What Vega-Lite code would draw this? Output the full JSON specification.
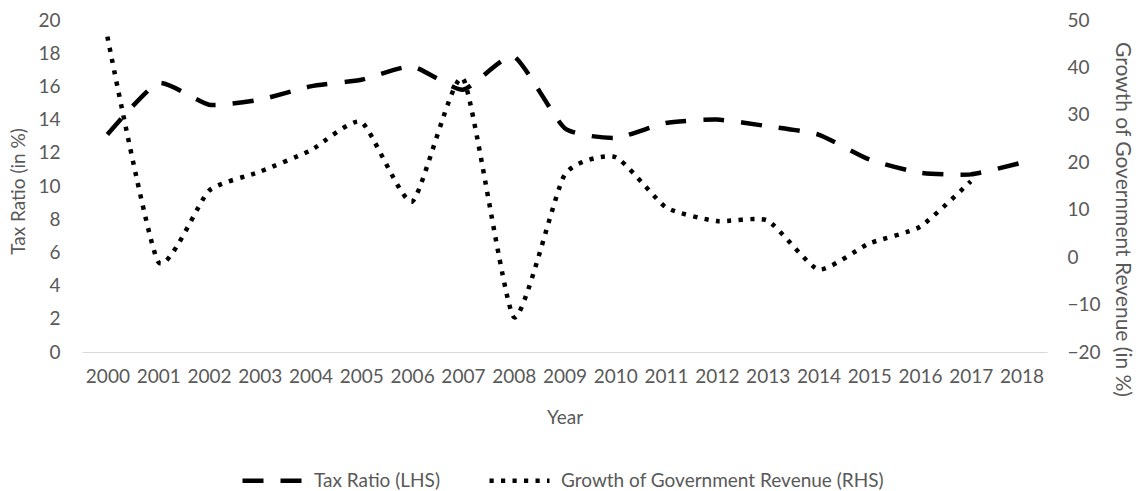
{
  "$schema": "https://vega.github.io/schema/vega-lite/v6.json",
  "autosize": "none",
  "width": 965,
  "height": 332,
  "padding": {"left": 82, "top": 20, "right": 91, "bottom": 139},
  "background": "white",
  "config": {
    "view": {"stroke": null},
    "font": "Lato",
    "axis": {
      "labelFont": "Lato",
      "titleFont": "Lato",
      "labelFontSize": 19,
      "titleFontSize": 19,
      "labelColor": "#595959",
      "titleColor": "#595959",
      "titleFontWeight": "normal",
      "grid": false,
      "ticks": false,
      "tickSize": 0
    },
    "legend": {"labelFont": "Lato"}
  },
  "data": {
    "values": [
      {"Year": "2000", "tax": 13.1, "growth": 46.5},
      {"Year": "2001", "tax": 16.2, "growth": -1.0},
      {"Year": "2002", "tax": 14.9, "growth": 14.0},
      {"Year": "2003", "tax": 15.2, "growth": 18.0},
      {"Year": "2004", "tax": 16.0, "growth": 22.5},
      {"Year": "2005", "tax": 16.4, "growth": 28.5},
      {"Year": "2006", "tax": 17.2, "growth": 11.7},
      {"Year": "2007", "tax": 15.8, "growth": 37.7},
      {"Year": "2008", "tax": 17.8, "growth": -12.6},
      {"Year": "2009", "tax": 13.5, "growth": 17.3},
      {"Year": "2010", "tax": 12.9, "growth": 21.1},
      {"Year": "2011", "tax": 13.8, "growth": 10.5},
      {"Year": "2012", "tax": 14.0, "growth": 7.6},
      {"Year": "2013", "tax": 13.6, "growth": 7.7},
      {"Year": "2014", "tax": 13.1, "growth": -2.6},
      {"Year": "2015", "tax": 11.6, "growth": 2.9},
      {"Year": "2016", "tax": 10.8, "growth": 6.4},
      {"Year": "2017", "tax": 10.7, "growth": 16.0},
      {"Year": "2018", "tax": 11.4, "growth": null}
    ]
  },
  "encoding": {
    "x": {
      "field": "Year",
      "type": "ordinal",
      "scale": {"type": "point", "padding": 0.5},
      "axis": {
        "title": "Year",
        "labelAngle": 0,
        "domainColor": "#d9d9d9",
        "domainWidth": 1,
        "labelPadding": 15,
        "titlePadding": 22
      }
    }
  },
  "layer": [
    {
      "mark": {"type": "line", "interpolate": "cardinal", "tension": 0.45, "color": "black", "strokeWidth": 4.5, "strokeCap": "butt"},
      "encoding": {
        "y": {
          "field": "tax",
          "type": "quantitative",
          "scale": {"domain": [0, 20], "nice": false, "zero": false},
          "axis": {
            "orient": "left",
            "title": "Tax Ratio (in %)",
            "values": [0, 2, 4, 6, 8, 10, 12, 14, 16, 18, 20],
            "domain": false,
            "labelPadding": 22,
            "titlePadding": 9,
            "titleY": 171
          }
        },
        "strokeDash": {
          "datum": "Tax Ratio (LHS)",
          "type": "nominal",
          "scale": {
            "domain": ["Tax Ratio (LHS)", "Growth of Government Revenue (RHS)"],
            "range": [[21, 17], [4.2, 7.3]]
          },
          "legend": {
            "orient": "none",
            "direction": "horizontal",
            "legendX": 158,
            "legendY": 428,
            "title": null,
            "symbolType": "stroke",
            "symbolSize": 3600,
            "symbolStrokeWidth": 4.5,
            "symbolStrokeColor": "black",
            "labelFontSize": 19,
            "labelColor": "#595959",
            "labelOffset": 9,
            "labelLimit": 500,
            "columnPadding": 40
          }
        }
      }
    },
    {
      "mark": {"type": "line", "interpolate": "cardinal", "tension": 0.45, "color": "black", "strokeWidth": 4.5, "strokeCap": "butt"},
      "encoding": {
        "y": {
          "field": "growth",
          "type": "quantitative",
          "scale": {"domain": [-20, 50], "nice": false, "zero": false},
          "axis": {
            "orient": "right",
            "title": "Growth of Government Revenue (in %)",
            "titleFontSize": 21,
            "values": [-20, -10, 0, 10, 20, 30, 40, 50],
            "domain": false,
            "labelPadding": 20,
            "titlePadding": 11,
            "titleY": 199
          }
        },
        "strokeDash": {"datum": "Growth of Government Revenue (RHS)", "type": "nominal"}
      }
    }
  ],
  "resolve": {"scale": {"y": "independent"}}
}
